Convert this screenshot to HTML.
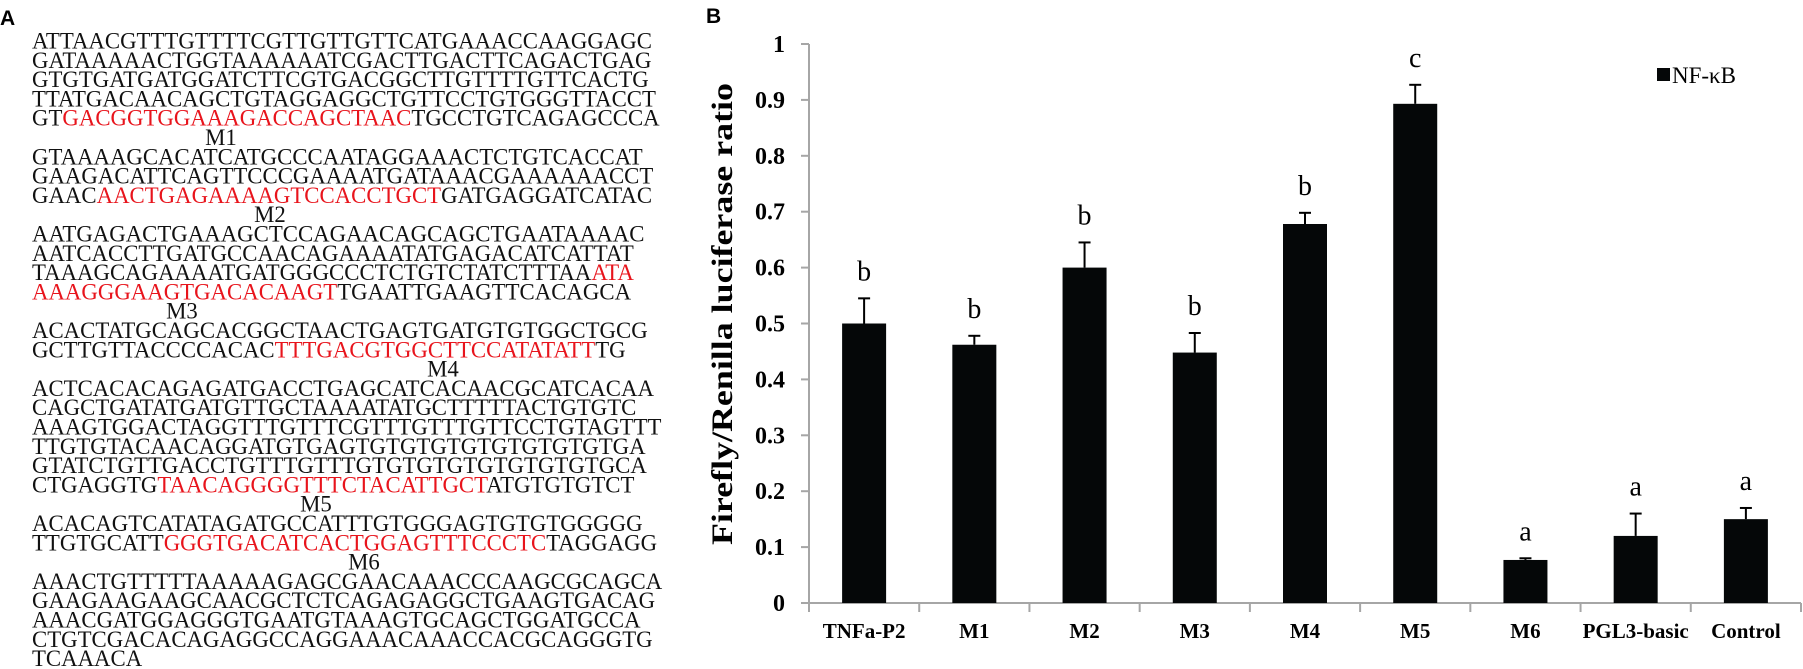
<!DOCTYPE html>
<html><head><meta charset="utf-8">
<style>
html,body{margin:0;padding:0;background:#fff;}
body{width:1803px;height:669px;overflow:hidden;position:relative;}
svg{position:absolute;left:0;top:0;}
</style></head>
<body>
<svg id="fig" width="1803" height="669" viewBox="0 0 1803 669" xmlns="http://www.w3.org/2000/svg">
  <text x="0" y="25" font-family="Liberation Sans, sans-serif" font-weight="bold" font-size="21" fill="#000">A</text>
  <g id="seq" font-family="Liberation Serif, serif" font-size="22.8" fill="#111"></g>
  <text x="706" y="23" font-family="Liberation Sans, sans-serif" font-weight="bold" font-size="21" fill="#000">B</text>
  <g id="chart"></g>
</svg>
<script>
// ---- Sequence panel ----
const seqRows = [
 [["ATTAACGTTTGTTTTCGTTGTTGTTCATGAAACCAAGGAGC",0]],
 [["GATAAAAACTGGTAAAAAATCGACTTGACTTCAGACTGAG",0]],
 [["GTGTGATGATGGATCTTCGTGACGGCTTGTTTTGTTCACTG",0]],
 [["TTATGACAACAGCTGTAGGAGGCTGTTCCTGTGGGTTACCT",0]],
 [["GT",0],["GACGGTGGAAAGACCAGCTAAC",1],["TGCCTGTCAGAGCCCA",0]],
 "M1:221",
 [["GTAAAAGCACATCATGCCCAATAGGAAACTCTGTCACCAT",0]],
 [["GAAGACATTCAGTTCCCGAAAATGATAAACGAAAAAACCT",0]],
 [["GAAC",0],["AACTGAGAAAAGTCCACCTGCT",1],["GATGAGGATCATAC",0]],
 "M2:270",
 [["AATGAGACTGAAAGCTCCAGAACAGCAGCTGAATAAAAC",0]],
 [["AATCACCTTGATGCCAACAGAAAATATGAGACATCATTAT",0]],
 [["TAAAGCAGAAAATGATGGGCCCTCTGTCTATCTTTAA",0],["ATA",1]],
 [["AAAGGGAAGTGACACAAGT",1],["TGAATTGAAGTTCACAGCA",0]],
 "M3:182",
 [["ACACTATGCAGCACGGCTAACTGAGTGATGTGTGGCTGCG",0]],
 [["GCTTGTTACCCCACAC",0],["TTTGACGTGGCTTCCATATATT",1],["TG",0]],
 "M4:443",
 [["ACTCACACAGAGATGACCTGAGCATCACAACGCATCACAA",0]],
 [["CAGCTGATATGATGTTGCTAAAATATGCTTTTTACTGTGTC",0]],
 [["AAAGTGGACTAGGTTTGTTTCGTTTGTTTGTTCCTGTAGTTT",0]],
 [["TTGTGTACAACAGGATGTGAGTGTGTGTGTGTGTGTGTGA",0]],
 [["GTATCTGTTGACCTGTTTGTTTGTGTGTGTGTGTGTGTGCA",0]],
 [["CTGAGGTG",0],["TAACAGGGGTTTCTACATTGCT",1],["ATGTGTGTCT",0]],
 "M5:316",
 [["ACACAGTCATATAGATGCCATTTGTGGGAGTGTGTGGGGG",0]],
 [["TTGTGCATT",0],["GGGTGACATCACTGGAGTTTCCCTC",1],["TAGGAGG",0]],
 "M6:364",
 [["AAACTGTTTTTAAAAAGAGCGAACAAACCCAAGCGCAGCA",0]],
 [["GAAGAAGAAGCAACGCTCTCAGAGAGGCTGAAGTGACAG",0]],
 [["AAACGATGGAGGGTGAATGTAAAGTGCAGCTGGATGCCA",0]],
 [["CTGTCGACACAGAGGCCAGGAAACAAACCACGCAGGGTG",0]],
 [["TCAAACA",0]]
];
const NS="http://www.w3.org/2000/svg";
const seqG=document.getElementById('seq');
seqRows.forEach((row,i)=>{
  const y=41+19.3*i+7.5;
  const t=document.createElementNS(NS,'text');
  t.setAttribute('y',y);
  if(typeof row==='string'){
    const [lab,cx]=row.split(':');
    t.setAttribute('x',cx);
    t.setAttribute('text-anchor','middle');
    t.textContent=lab;
    
    
  } else {
    t.setAttribute('x',32);
    row.forEach(([s,red])=>{
      const sp=document.createElementNS(NS,'tspan');
      sp.textContent=s;
      if(red) sp.setAttribute('fill','#e8141c');
      t.appendChild(sp);
    });
    
    
  }
  seqG.appendChild(t);
});

// ---- Bar chart ----
const categories=["TNFa-P2","M1","M2","M3","M4","M5","M6","PGL3-basic","Control"];
const values=[0.50,0.462,0.60,0.448,0.678,0.893,0.077,0.12,0.15];
const errors=[0.045,0.016,0.045,0.035,0.020,0.034,0.003,0.040,0.020];
const sigLetters=["b","b","b","b","b","c","a","a","a"];
const yTicks=[0,0.1,0.2,0.3,0.4,0.5,0.6,0.7,0.8,0.9,1];
const yTickLabels=["0","0.1","0.2","0.3","0.4","0.5","0.6","0.7","0.8","0.9","1"];

const X0=809, X1=1801, Y0=603, Y1=44;
const band=(X1-X0)/categories.length;
const yScale=v=>Y0-(Y0-Y1)*v;
const xCenter=i=>X0+band*(i+0.5);
const g=document.getElementById('chart');
function mk(tag,attrs){const e=document.createElementNS(NS,tag);for(const k in attrs)e.setAttribute(k,attrs[k]);g.appendChild(e);return e;}

// y axis
const ya=mk('line',{x1:X0,y1:Y1,x2:X0,y2:Y0,stroke:'#a6a6a6','stroke-width':2});


yTicks.forEach((v,i)=>{
  const tk=mk('line',{x1:X0-8,y1:yScale(v),x2:X0,y2:yScale(v),stroke:'#a6a6a6','stroke-width':2});
  
  
  const tl=mk('text',{x:785,y:yScale(v)+8,'text-anchor':'end','font-family':'Liberation Serif, serif','font-weight':'bold','font-size':24,fill:'#000'});
  tl.textContent=yTickLabels[i];
  
  
});
// x axis
const xa=mk('line',{x1:X0-8,y1:Y0,x2:X1,y2:Y0,stroke:'#a6a6a6','stroke-width':2});


for(let i=0;i<=categories.length;i++){
  const tk=mk('line',{x1:X0+band*i,y1:Y0,x2:X0+band*i,y2:Y0+9,stroke:'#a6a6a6','stroke-width':2});
  
  
}
// y title
const yt=mk('text',{x:0,y:0,transform:'translate(732,314) rotate(-90)','text-anchor':'middle','font-family':'Liberation Serif, serif','font-weight':'bold','font-size':30,fill:'#000',textLength:462,lengthAdjust:'spacingAndGlyphs'});
yt.textContent="Firefly/Renilla luciferase ratio";



const bw=44;
categories.forEach((c,i)=>{
  const cx=xCenter(i), top=yScale(values[i]), etop=yScale(values[i]+errors[i]);
  const b=mk('rect',{x:cx-bw/2,y:top,width:bw,height:Y0-top,fill:'#050708'});
  
  
  const e1=mk('line',{x1:cx,y1:top,x2:cx,y2:etop,stroke:'#000','stroke-width':2});
  
  
  const e2=mk('line',{x1:cx-6,y1:etop,x2:cx+6,y2:etop,stroke:'#000','stroke-width':2});
  
  
  const lt=mk('text',{x:cx,y:etop-18,'text-anchor':'middle','font-family':'Liberation Serif, serif','font-size':28,fill:'#000'});
  lt.textContent=sigLetters[i];
  
  
  const xl=mk('text',{x:cx,y:638,'text-anchor':'middle','font-family':'Liberation Serif, serif','font-weight':'bold','font-size':21,fill:'#000'});
  xl.textContent=c;
  
  
});

// legend
const ls=mk('rect',{x:1657,y:68,width:13,height:13,fill:'#050708'});


const lt=mk('text',{x:1672,y:83,'font-family':'Liberation Serif, serif','font-size':23,fill:'#000'});
lt.textContent="NF-κB";


</script>
</body></html>
